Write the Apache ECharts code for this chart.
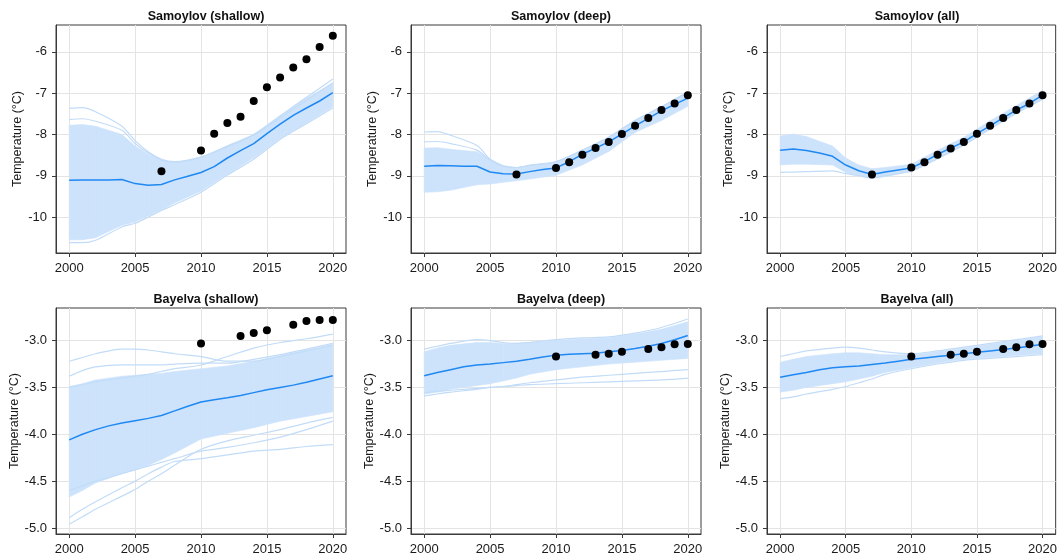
<!DOCTYPE html>
<html>
<head>
<meta charset="utf-8">
<script src="https://cdn.jsdelivr.net/npm/echarts@6/dist/echarts.min.js"></script>
<style>
html,body{margin:0;padding:0;background:#fff;}
#chart{width:1060px;height:556px;}
</style>
</head>
<body>
<div id="chart"></div>
<script>
// ---------------- DATA ----------------
const years = [2000,2001,2002,2003,2004,2005,2006,2007,2008,2009,2010,2011,2012,2013,2014,2015,2016,2017,2018,2019,2020];
const knots = [2000,2001,2002,2004,2005,2006,2007,2008,2010,2012,2014,2016,2018,2020];
const obsYearsSam = [2007,2010,2011,2012,2013,2014,2015,2016,2017,2018,2019,2020];
const obsYearsBay = [2010,2013,2014,2015,2017,2018,2019,2020];
const xTicks = [2000,2005,2010,2015,2020];
const yTicksSam = [-10,-9,-8,-7,-6];
const yTicksBay = [-5.0,-4.5,-4.0,-3.5,-3.0];
const titles = ['Samoylov (shallow)','Samoylov (deep)','Samoylov (all)','Bayelva (shallow)','Bayelva (deep)','Bayelva (all)'];

// Samoylov (shallow)
const samShallowMedian = [-9.11,-9.10,-9.10,-9.10,-9.09,-9.19,-9.23,-9.21,-9.10,-9.01,-8.92,-8.78,-8.57,-8.39,-8.22,-7.98,-7.75,-7.54,-7.36,-7.19,-6.99];
const samShallowObs = [-8.89,-8.39,-7.98,-7.72,-7.57,-7.19,-6.86,-6.62,-6.38,-6.18,-5.88,-5.61];
const samShallowHigh = [-7.78,-7.76,-7.80,-8.00,-8.28,-8.48,-8.63,-8.68,-8.55,-8.28,-8.00,-7.55,-7.12,-6.76];
const samShallowLow = [-10.55,-10.55,-10.50,-10.20,-10.12,-9.97,-9.82,-9.66,-9.37,-8.96,-8.57,-8.10,-7.72,-7.33];
const samShallowMembers = [
  [-7.37,-7.35,-7.45,-7.80,-8.15,-8.42,-8.60,-8.66,-8.55,-8.28,-8.00,-7.55,-7.10,-6.66],
  [-7.64,-7.62,-7.68,-7.90,-8.22,-8.45,-8.62,-8.67,-8.55,-8.30,-8.02,-7.60,-7.17,-6.75],
  [-10.62,-10.62,-10.56,-10.24,-10.15,-10.00,-9.84,-9.70,-9.40,-8.98,-8.60,-8.12,-7.74,-7.36]
];
// Samoylov (deep)
const samDeepMedian = [-8.77,-8.75,-8.76,-8.77,-8.77,-8.91,-8.95,-8.96,-8.90,-8.85,-8.81,-8.66,-8.48,-8.33,-8.18,-7.99,-7.79,-7.61,-7.43,-7.27,-7.12];
const samDeepObs = [-8.97,-8.81,-8.67,-8.49,-8.33,-8.18,-7.99,-7.79,-7.60,-7.41,-7.25,-7.05];
const samDeepHigh = [-8.33,-8.32,-8.36,-8.42,-8.60,-8.76,-8.80,-8.75,-8.66,-8.38,-8.07,-7.66,-7.33,-6.97];
const samDeepLow = [-9.40,-9.39,-9.35,-9.22,-9.20,-9.16,-9.12,-9.08,-8.99,-8.74,-8.41,-7.95,-7.66,-7.32];
const samDeepMembers = [
  [-7.94,-7.93,-8.02,-8.27,-8.60,-8.76,-8.80,-8.75,-8.66,-8.38,-8.07,-7.66,-7.33,-6.97],
  [-8.18,-8.17,-8.22,-8.38,-8.62,-8.77,-8.80,-8.75,-8.66,-8.38,-8.07,-7.66,-7.33,-6.97]
];
// Samoylov (all)
const samAllMedian = [-8.38,-8.35,-8.39,-8.45,-8.53,-8.74,-8.88,-8.97,-8.91,-8.86,-8.81,-8.66,-8.48,-8.33,-8.18,-7.98,-7.79,-7.60,-7.41,-7.25,-7.05];
const samAllObs = [-8.97,-8.80,-8.67,-8.49,-8.34,-8.18,-7.98,-7.79,-7.60,-7.41,-7.25,-7.05];
const samAllHigh = [-8.04,-7.99,-8.05,-8.28,-8.57,-8.74,-8.83,-8.80,-8.72,-8.38,-8.07,-7.67,-7.30,-6.93];
const samAllLow = [-8.74,-8.72,-8.72,-8.74,-8.92,-9.00,-9.07,-9.02,-8.90,-8.60,-8.27,-7.88,-7.50,-7.16];
const samAllMembers = [
  [-8.92,-8.91,-8.90,-8.88,-8.95,-9.00,-9.05,-9.00,-8.88,-8.58,-8.25,-7.86,-7.48,-7.14]
];
// Bayelva (shallow)
const bayShallowMedian = [-4.06,-4.00,-3.95,-3.91,-3.88,-3.855,-3.83,-3.80,-3.75,-3.70,-3.655,-3.63,-3.61,-3.585,-3.555,-3.525,-3.50,-3.475,-3.445,-3.41,-3.375];
const bayShallowObs = [-3.03,-2.95,-2.92,-2.89,-2.83,-2.79,-2.78,-2.78];
const bayShallowHigh = [-3.49,-3.46,-3.42,-3.38,-3.37,-3.36,-3.35,-3.33,-3.30,-3.27,-3.22,-3.16,-3.10,-3.04];
const bayShallowLow = [-4.67,-4.60,-4.52,-4.42,-4.38,-4.33,-4.27,-4.20,-4.05,-3.99,-3.93,-3.86,-3.81,-3.76];
const bayShallowMembers = [
  [-3.22,-3.18,-3.14,-3.09,-3.09,-3.10,-3.12,-3.14,-3.17,-3.22,-3.22,-3.17,-3.11,-3.05],
  [-3.38,-3.32,-3.28,-3.26,-3.26,-3.26,-3.26,-3.25,-3.24,-3.24,-3.20,-3.15,-3.09,-3.03],
  [-3.50,-3.47,-3.44,-3.40,-3.38,-3.36,-3.33,-3.30,-3.26,-3.17,-3.08,-3.02,-2.98,-2.93],
  [-4.96,-4.88,-4.80,-4.66,-4.59,-4.50,-4.42,-4.33,-4.16,-4.07,-4.01,-3.95,-3.88,-3.82],
  [-4.89,-4.80,-4.72,-4.57,-4.50,-4.42,-4.35,-4.29,-4.26,-4.22,-4.18,-4.16,-4.13,-4.11],
  [-4.60,-4.55,-4.50,-4.42,-4.38,-4.34,-4.30,-4.26,-4.18,-4.14,-4.09,-4.03,-3.95,-3.86]
];
// Bayelva (deep)
const bayDeepMedian = [-3.375,-3.34,-3.31,-3.28,-3.26,-3.25,-3.235,-3.22,-3.20,-3.175,-3.155,-3.145,-3.14,-3.135,-3.12,-3.105,-3.085,-3.06,-3.03,-2.99,-2.945];
const bayDeepObs = [-3.17,-3.15,-3.14,-3.12,-3.09,-3.07,-3.04,-3.035];
const bayDeepHigh = [-3.12,-3.08,-3.05,-3.02,-3.02,-3.03,-3.03,-3.02,-3.00,-2.98,-2.97,-2.93,-2.88,-2.80];
const bayDeepLow = [-3.57,-3.55,-3.52,-3.48,-3.46,-3.43,-3.40,-3.36,-3.31,-3.28,-3.25,-3.23,-3.21,-3.19];
const bayDeepMembers = [
  [-3.09,-3.06,-3.03,-2.99,-3.00,-3.02,-3.03,-3.02,-2.99,-2.97,-2.96,-2.92,-2.86,-2.77],
  [-3.56,-3.54,-3.53,-3.51,-3.50,-3.49,-3.48,-3.47,-3.46,-3.45,-3.44,-3.43,-3.42,-3.40],
  [-3.59,-3.57,-3.55,-3.52,-3.50,-3.49,-3.47,-3.45,-3.42,-3.39,-3.37,-3.35,-3.33,-3.31]
];
// Bayelva (all)
const bayAllMedian = [-3.39,-3.365,-3.34,-3.31,-3.29,-3.28,-3.27,-3.255,-3.24,-3.22,-3.20,-3.185,-3.17,-3.155,-3.14,-3.125,-3.11,-3.095,-3.08,-3.06,-3.04];
const bayAllObs = [-3.17,-3.15,-3.14,-3.12,-3.09,-3.07,-3.04,-3.035];
const bayAllHigh = [-3.23,-3.20,-3.17,-3.14,-3.13,-3.13,-3.14,-3.15,-3.15,-3.12,-3.08,-3.04,-3.00,-2.96];
const bayAllLow = [-3.55,-3.53,-3.50,-3.46,-3.44,-3.41,-3.38,-3.34,-3.29,-3.24,-3.20,-3.18,-3.16,-3.14];
const bayAllMembers = [
  [-3.17,-3.14,-3.11,-3.08,-3.07,-3.08,-3.10,-3.12,-3.14,-3.11,-3.07,-3.03,-2.99,-2.95],
  [-3.62,-3.60,-3.57,-3.52,-3.49,-3.45,-3.41,-3.36,-3.30,-3.25,-3.21,-3.19,-3.17,-3.15]
];

// ---------------- LAYOUT / STYLE ----------------
const FONT = '"Liberation Sans", Arial, Helvetica, sans-serif';
const BAND = '#cde3fc';
const MEMBER = '#c2dcf8';
const MEDIAN = '#1f88f2';
const lefts = [56, 411, 767];
const tops = [25, 308];
const gridW = 290;
const gridH = [228, 227];
const yRanges = [[-10.87, -5.35], [-5.064, -2.652]];
const nameGaps = [30, 34];

const panels = [
  {median: samShallowMedian, obsYears: obsYearsSam, obs: samShallowObs, hi: samShallowHigh, lo: samShallowLow, members: samShallowMembers},
  {median: samDeepMedian, obsYears: obsYearsSam, obs: samDeepObs, hi: samDeepHigh, lo: samDeepLow, members: samDeepMembers},
  {median: samAllMedian, obsYears: obsYearsSam, obs: samAllObs, hi: samAllHigh, lo: samAllLow, members: samAllMembers},
  {median: bayShallowMedian, obsYears: obsYearsBay, obs: bayShallowObs, hi: bayShallowHigh, lo: bayShallowLow, members: bayShallowMembers},
  {median: bayDeepMedian, obsYears: obsYearsBay, obs: bayDeepObs, hi: bayDeepHigh, lo: bayDeepLow, members: bayDeepMembers},
  {median: bayAllMedian, obsYears: obsYearsBay, obs: bayAllObs, hi: bayAllHigh, lo: bayAllLow, members: bayAllMembers}
];

const grid = [], xAxis = [], yAxis = [], title = [], series = [];
panels.forEach((p, i) => {
  const row = Math.floor(i / 3), col = i % 3;
  grid.push({left: lefts[col], top: tops[row], width: gridW, height: gridH[row],
    show: true, borderColor: '#3a3a3a', borderWidth: 1, backgroundColor: 'transparent'});
  title.push({text: titles[i], left: lefts[col] + gridW / 2, top: tops[row] - 20, textAlign: 'center',
    textStyle: {fontFamily: FONT, fontSize: 12.5, fontWeight: 'bold', color: '#111'}});
  xAxis.push({type: 'value', gridIndex: i, min: 1999, max: 2021,
    axisLine: {show: true, onZero: false, lineStyle: {color: '#3a3a3a', width: 1}},
    axisTick: {show: true, length: 4, customValues: xTicks, lineStyle: {color: '#3a3a3a'}},
    axisLabel: {customValues: xTicks, margin: 9, fontFamily: FONT, fontSize: 13, color: '#1a1a1a', formatter: v => String(v)},
    splitLine: {show: true, lineStyle: {color: '#e4e4e4', width: 1}}
  });
  const yt = row === 0 ? yTicksSam : yTicksBay;
  yAxis.push({type: 'value', gridIndex: i, min: yRanges[row][0], max: yRanges[row][1],
    name: 'Temperature (°C)', nameLocation: 'middle', nameGap: nameGaps[row],
    nameTextStyle: {fontFamily: FONT, fontSize: 12.5, color: '#1a1a1a'},
    axisLine: {show: true, onZero: false, lineStyle: {color: '#3a3a3a', width: 1}},
    axisTick: {show: true, length: 4, customValues: yt, lineStyle: {color: '#3a3a3a'}},
    axisLabel: {customValues: yt, margin: 9, fontFamily: FONT, fontSize: 13, color: '#1a1a1a',
      formatter: v => row === 0 ? String(Math.round(v)) : Number(v).toFixed(1)},
    splitLine: {show: true, lineStyle: {color: '#e4e4e4', width: 1}}
  });
  // ensemble band (dense part of the members)
  const bandData = [];
  for (let k = 0; k < knots.length - 1; k++) {
    bandData.push([knots[k], p.lo[k], p.hi[k], knots[k + 1], p.lo[k + 1], p.hi[k + 1]]);
  }
  series.push({type: 'custom', xAxisIndex: i, yAxisIndex: i, silent: true, z: 1,
    encode: {x: [0, 3], y: [1, 2, 4, 5]},
    data: bandData,
    renderItem: (params, api) => {
      const a = api.coord([api.value(0), api.value(1)]);
      const b = api.coord([api.value(3), api.value(4)]);
      const c = api.coord([api.value(3), api.value(5)]);
      const d = api.coord([api.value(0), api.value(2)]);
      return {type: 'polygon', shape: {points: [a, b, c, d]},
        style: {fill: BAND, stroke: BAND, lineWidth: 0.6}};
    }
  });
  // individual outlying members
  p.members.forEach(m => {
    series.push({type: 'line', xAxisIndex: i, yAxisIndex: i, silent: true, z: 2,
      data: knots.map((x, k) => [x, m[k]]), showSymbol: false, smooth: 0.3,
      lineStyle: {color: MEMBER, width: 1.2}});
  });
  // ensemble median
  series.push({type: 'line', xAxisIndex: i, yAxisIndex: i, silent: true, z: 3,
    data: years.map((x, k) => [x, p.median[k]]), showSymbol: false,
    lineStyle: {color: MEDIAN, width: 1.5}});
  // observations
  series.push({type: 'scatter', xAxisIndex: i, yAxisIndex: i, silent: true, z: 4,
    data: p.obsYears.map((x, k) => [x, p.obs[k]]), symbolSize: 8,
    itemStyle: {color: '#000', opacity: 1}});
});

const chart = echarts.init(document.getElementById('chart'), null, {renderer: 'canvas'});
chart.setOption({animation: false, backgroundColor: '#fff', title, grid, xAxis, yAxis, series});
</script>
</body>
</html>
